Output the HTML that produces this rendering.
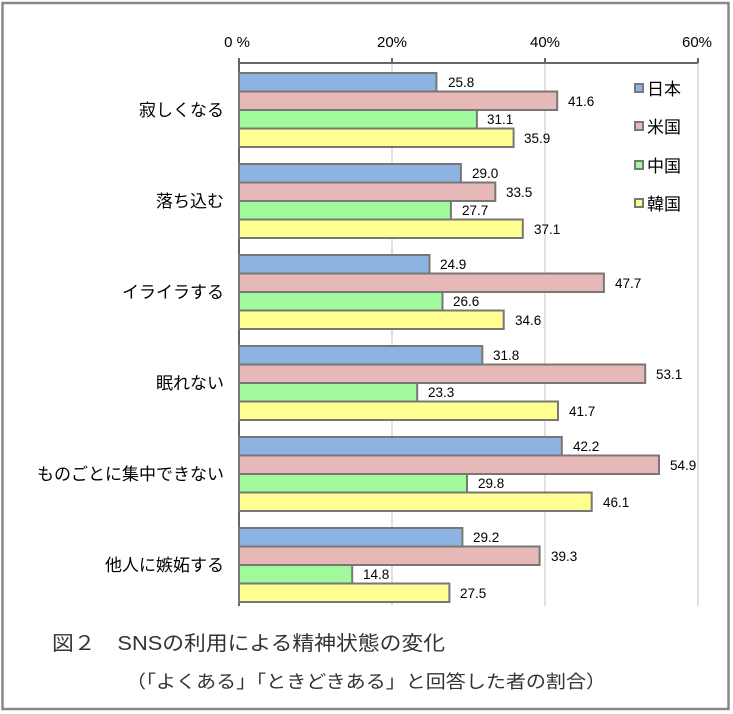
<!DOCTYPE html>
<html><head><meta charset="utf-8"><style>
body{margin:0;background:#fff}
svg{display:block;font-family:"Liberation Sans","Noto Sans CJK JP",sans-serif}
</style></head><body>
<svg width="733" height="714" xmlns="http://www.w3.org/2000/svg">
<rect x="0" y="0" width="733" height="714" fill="#fff"/>
<rect x="2.5" y="3" width="726" height="706" fill="none" stroke="#888" stroke-width="2.5"/>
<g stroke="#d9d9d9" stroke-width="1.5">
<line x1="392" y1="63" x2="392" y2="606"/>
<line x1="545" y1="63" x2="545" y2="606"/>
<line x1="698" y1="63" x2="698" y2="606"/>
</g>
<g stroke="#666" stroke-width="2">
<line x1="239" y1="63" x2="698" y2="63"/>
<line x1="239" y1="58" x2="239" y2="606"/>
<line x1="392" y1="58" x2="392" y2="63"/>
<line x1="545" y1="58" x2="545" y2="63"/>
<line x1="698" y1="58" x2="698" y2="63"/>
</g>
<g font-size="15" fill="#000" text-anchor="middle">
<text x="237" y="47">0 %</text><text x="392" y="47">20%</text><text x="545" y="47">40%</text><text x="697" y="47">60%</text>
</g>
<g stroke="#777" stroke-width="2">
<rect x="239" y="73" width="197.4" height="18.5" fill="#8db3e2"/>
<rect x="239" y="91.5" width="318.2" height="18.5" fill="#e6b8b7"/>
<rect x="239" y="110" width="237.9" height="18.5" fill="#a0fa9c"/>
<rect x="239" y="128.5" width="274.6" height="18.5" fill="#ffff91"/>
<rect x="239" y="164" width="221.9" height="18.5" fill="#8db3e2"/>
<rect x="239" y="182.5" width="256.3" height="18.5" fill="#e6b8b7"/>
<rect x="239" y="201" width="211.9" height="18.5" fill="#a0fa9c"/>
<rect x="239" y="219.5" width="283.8" height="18.5" fill="#ffff91"/>
<rect x="239" y="255" width="190.5" height="18.5" fill="#8db3e2"/>
<rect x="239" y="273.5" width="364.9" height="18.5" fill="#e6b8b7"/>
<rect x="239" y="292" width="203.5" height="18.5" fill="#a0fa9c"/>
<rect x="239" y="310.5" width="264.7" height="18.5" fill="#ffff91"/>
<rect x="239" y="346" width="243.3" height="18.5" fill="#8db3e2"/>
<rect x="239" y="364.5" width="406.2" height="18.5" fill="#e6b8b7"/>
<rect x="239" y="383" width="178.2" height="18.5" fill="#a0fa9c"/>
<rect x="239" y="401.5" width="319.0" height="18.5" fill="#ffff91"/>
<rect x="239" y="437" width="322.8" height="18.5" fill="#8db3e2"/>
<rect x="239" y="455.5" width="420.0" height="18.5" fill="#e6b8b7"/>
<rect x="239" y="474" width="228.0" height="18.5" fill="#a0fa9c"/>
<rect x="239" y="492.5" width="352.7" height="18.5" fill="#ffff91"/>
<rect x="239" y="528" width="223.4" height="18.5" fill="#8db3e2"/>
<rect x="239" y="546.5" width="300.6" height="18.5" fill="#e6b8b7"/>
<rect x="239" y="565" width="113.2" height="18.5" fill="#a0fa9c"/>
<rect x="239" y="583.5" width="210.4" height="18.5" fill="#ffff91"/>
</g>
<g font-size="13.5" fill="#000">
<text x="448" y="87">25.8</text><text x="568" y="106">41.6</text><text x="487" y="124">31.1</text><text x="524" y="143">35.9</text>
<text x="472" y="178">29.0</text><text x="506" y="197">33.5</text><text x="462" y="215">27.7</text><text x="534" y="234">37.1</text>
<text x="440" y="269">24.9</text><text x="615" y="288">47.7</text><text x="453" y="306">26.6</text><text x="515" y="325">34.6</text>
<text x="493" y="360">31.8</text><text x="656" y="379">53.1</text><text x="428" y="397">23.3</text><text x="569" y="416">41.7</text>
<text x="573" y="451">42.2</text><text x="670" y="470">54.9</text><text x="478" y="488">29.8</text><text x="603" y="507">46.1</text>
<text x="473" y="542">29.2</text><text x="551" y="561">39.3</text><text x="363" y="579">14.8</text><text x="460" y="598">27.5</text>
</g>
<g font-size="17" text-anchor="end" fill="#000">
<text x="224" y="116">寂しくなる</text>
<text x="224" y="207">落ち込む</text>
<text x="224" y="298">イライラする</text>
<text x="224" y="389">眠れない</text>
<text x="224" y="480">ものごとに集中できない</text>
<text x="224" y="571">他人に嫉妬する</text>
</g>
<g stroke="#777" stroke-width="2">
<rect x="635" y="84" width="8" height="8" fill="#8db3e2"/>
<rect x="635" y="122" width="8" height="8" fill="#e6b8b7"/>
<rect x="635" y="161" width="8" height="8" fill="#a0fa9c"/>
<rect x="635" y="199" width="8" height="8" fill="#ffff91"/>
</g>
<g font-size="17" fill="#000">
<text x="647" y="95">日本</text><text x="647" y="133">米国</text><text x="647" y="172">中国</text><text x="647" y="210">韓国</text>
</g>
<text x="52" y="650" font-size="20" fill="#333" textLength="393" lengthAdjust="spacingAndGlyphs">図２　SNSの利用による精神状態の変化</text>
<text x="126" y="688" font-size="18" fill="#333" textLength="480" lengthAdjust="spacingAndGlyphs">（「よくある」「ときどきある」と回答した者の割合）</text>
</svg>
</body></html>
